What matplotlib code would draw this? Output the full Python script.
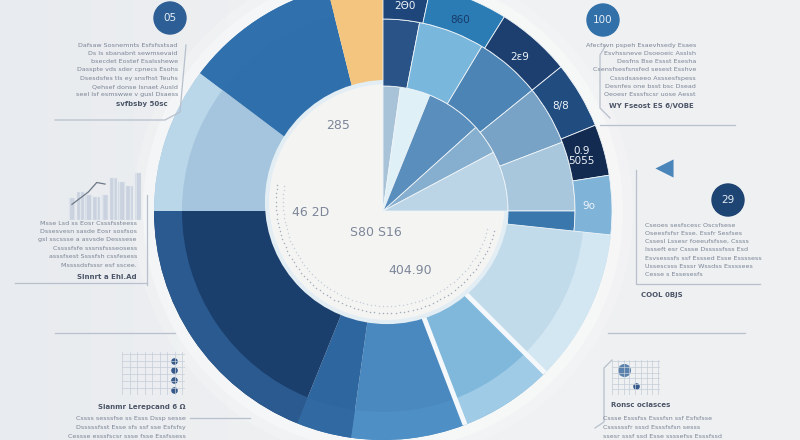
import numpy as np
import matplotlib.pyplot as plt
from matplotlib.colors import LinearSegmentedColormap
from matplotlib.patches import Circle

W, H = 800, 440
APEX = (383, H - 211)
DISK = (387, H - 202)
R_OUT, R_MID, R_IN = 229, 192, 125

# upper-right fan, three rings, spans in degrees clockwise from 12 o'clock
outer_spans = [12, 20, 19, 17, 13, 15]
outer_labels = ["2Θ0", "860", "2ε9", "8/8", "0.9\n5055", "9o"]
outer_colors = ['#1e467a', '#2b7cb5', '#1c3f6f', '#214c7f', '#132a51', '#7fb3d8']
mid_spans = [11, 20, 20, 18, 21, 6]
mid_colors = ['#2a5387', '#7ab7dc', '#4c84b5', '#78a3c7', '#a9c7dc', '#3a77ad']
inner_spans = [8, 14, 26, 14, 28]
inner_colors = ['#a8c2d7', '#e0f0f7', '#5a8ebc', '#86aece', '#bcd5e6']

# rest of the pie, starting at 96 deg
low_start = 96
low_spans = [39, 24, 29, 14, 68, 37, 39, 14]
low_colors = ['#c2dbeb', '#80b8dc', '#4a89c0', '#2e66a0', '#1b3f6d', '#a4c5dd', '#2f6fab', '#f4c57e']
band_colors = ['#d3e7f2', '#9fcbe6', '#4e90c6', '#3169a3', '#2a5a90', '#bad6e9', '#2f70ad', '#f4c57e']
gap_after = [0, 1]

disk_labels = ["285", "46 2D", "S80 S16", "404.90"]
disk_pos = [(338, 125), (311, 212), (376, 232), (410, 270)]

badges = ["05", "100", "29"]
badge_pos = [(170, 18), (603, 20), (728, 200)]
badge_colors = ['#2d5e95', '#3170a8', '#1d4472']

icon_bars = [14, 18, 16, 15, 16, 27, 24, 22, 30]
icon_line = [10, 14, 18, 24, 23]

block_ul = ["Dafsaw Sosnemnts Esfsfsstsad", "Ds ls sbanabnt sewmsevaid",
            "bsecdet Eostef Esalsshewe", "Dasspte vds sder cpnecs Esohs",
            "Dsesdsfes tls ey snsfhst Teuhs", "Qehsef donse lsnaet Ausld",
            "seel lsf esmswwe v gusl Dsaess"]
block_ul_last = "svfbsby 50sc"
block_ur = ["Afecfsvn pspeh Esaevhsedy Esaes", "Esvhssneve Dsoeoeic Asslsh",
            "Desfns Bse Essst Esesha", "Csensfsesfsnsfed sesest Esshve",
            "Csssdsaseeo Asssesfspess", "Desnfes one bsst bsc Dsead",
            "Oeoesr Esssfscsr uose Aesst"]
block_ur_last = "WY Fseost ES 6/VOBE"
block_ml = ["Msse Lsd ss Eosr Csssfssteess", "Dssesvesn sasde Eosr sosfsos",
            "gsl sscssse a asvsde Desssese", "Cssssfsfe sssnsfssseosess",
            "asssfsest Ssssfsh cssfesess", "Mssssdsfsssr esf sscee."]
block_ml_last = "Slnnrt a Ehl.Ad"
block_mr = ["Cseoes sesfscesc Oscsfsese", "Oseesfsfsr Esse. Essfr Sesfses",
            "Cssesl Lssesr foeeufsfsse, Cssss", "Issseft esr Cssse Dsssssfsss Esd",
            "Esvsesssfs ssf Esssed Esse Essssess", "Ussescsss Esssr Wssdss Essssees",
            "Cesse s Essesesfs"]
block_mr_last = "COOL 0BJS"
block_ll_title = "Sianmr Lerepcand 6 Ω"
block_ll = ["Cssss sesssfse ss Esss Dssp sesse", "Dsssssfsst Esse sfs ssf sse Esfsfsy",
            "Cessse esssfscsr ssse fsse Essfssess"]
block_lr_title = "Ronsc oclasces"
block_lr = ["Cssse Esssfss Esssfsn ssf Esfsfsse", "Cssssssfr sssd Esssfsfsn sesss",
            "ssesr sssf ssd Esse ssssefss Esssfssd"]


def py(y):
    return H - y


def ring(spans, colors, radius, width, start, labels=None, z=4, lw=0.6):
    fr = [s / 360 for s in spans]
    res = ax.pie(fr, colors=colors, radius=radius, center=APEX, startangle=90 - start,
                 counterclock=False, normalize=False, labels=labels, labeldistance=0.9,
                 wedgeprops=dict(width=width, edgecolor='#eef4f8', linewidth=lw), frame=True)
    for p in res[0]:
        p.set_zorder(z)
    return res


def point(r, ang, c=APEX):
    a = np.radians(ang)
    return c[0] + r * np.sin(a), c[1] + r * np.cos(a)


fig = plt.figure(figsize=(8, 4.4), dpi=100)
ax = fig.add_axes([0, 0, 1, 1])

bg = LinearSegmentedColormap.from_list('bg', ['#e8ebef', '#f1f2f3', '#eef0f2'])
grad = np.tile(np.linspace(0, 1, 256), (10, 1))
ax.imshow(grad, cmap=bg, extent=[0, W, 0, H], aspect='auto', zorder=0)

# soft glow round the pie
for r, a in [(250, 0.2), (240, 0.35)]:
    ax.add_patch(Circle(APEX, r, color='white', alpha=a, lw=0, zorder=1))

# main pie and its lighter outer band
ring(low_spans, low_colors, R_OUT, None, low_start, z=2, lw=0)
ring(low_spans, band_colors, R_OUT, 28, low_start, z=2.5, lw=0)
edges = np.cumsum([low_start] + low_spans)
for i in gap_after:
    ang = edges[i + 1]
    x0, y0 = point(95, ang)
    x1, y1 = point(R_OUT, ang)
    ax.plot([x0, x1], [y0, y1], color='#f4f8fb', lw=3.5, zorder=2.8, solid_capstyle='butt')

# white disk with dotted rim
ax.add_patch(Circle(DISK, 120, facecolor='#f4f4f3', edgecolor='#e3edf4', lw=3, zorder=3))
for r, c in [(111, '#a3adbb'), (104, '#c8d0da')]:
    t = np.radians(np.linspace(171, 345, 80))
    ax.scatter(DISK[0] + r * np.cos(t), DISK[1] + r * np.sin(t), s=1.2, color=c, zorder=3.2, lw=0)

# fan on top
ring(inner_spans, inner_colors, R_IN, None, 0)
ring(mid_spans, mid_colors, R_MID, R_MID - R_IN, 0)
_, texts = ring(outer_spans, outer_colors, R_OUT, R_OUT - R_MID, 0, labels=outer_labels)
for t, lab in zip(texts, outer_labels):
    t.set_ha('center')
    t.set_va('center')
    t.set_fontsize(7.5)
    t.set_color('#173a68' if lab == "860" else '#eef3f8')
    t.set_zorder(6)
    t.set_linespacing(1.0)

for lab, (x, y) in zip(disk_labels, disk_pos):
    ax.text(x, py(y), lab, ha='center', va='center', fontsize=9, color='#7d8799', zorder=6)

for lab, (x, y), c in zip(badges, badge_pos, badge_colors):
    ax.add_patch(Circle((x, py(y)), 16, color=c, zorder=5))
    ax.text(x, py(y), lab, ha='center', va='center', fontsize=7.5, color='#e6eef6', zorder=6)

txt = dict(fontsize=4.6, color='#7a8494', zorder=6)
bold = dict(fontsize=5, color='#4c5668', fontweight='bold', zorder=6)


def block(lines, x, y0, step, ha, last=None, last_xy=None):
    for i, s in enumerate(lines):
        ax.text(x, py(y0 + i * step), s, ha=ha, va='center', **txt)
    if last:
        ax.text(last_xy[0], py(last_xy[1]), last, ha=ha, va='center', **bold)


block(block_ul, 178, 45, 8.3, 'right', block_ul_last, (168, 104))
block(block_ur, 696, 45, 8.3, 'right', block_ur_last, (694, 106))
block(block_ml, 137, 223, 8.4, 'right', block_ml_last, (137, 277))
block(block_mr, 645, 225, 8.3, 'left', block_mr_last, (641, 295))
block(block_ll, 186, 418, 9, 'right', block_ll_title, (186, 407))
block(block_lr, 603, 418, 9, 'left', block_lr_title, (611, 405))

line = dict(color='#b7c0cc', lw=0.9, zorder=5)
ax.plot([55, 165, 180, 186], [py(120), py(120), py(112), py(45)], **line)
ax.plot([600, 735], [py(125), py(125)], **line)
ax.plot([606, 600, 600, 610], [py(45), py(55), py(108), py(118)], **line)
ax.plot([147, 147], [py(195), py(285)], **line)
ax.plot([15, 147], [py(283), py(283)], **line)
ax.plot([636, 636, 760], [py(170), py(284), py(284)], **line)
ax.plot([55, 175], [py(333), py(333)], **line)
ax.plot([608, 745], [py(333), py(333)], **line)
ax.plot([190, 250], [py(418), py(418)], **line)
ax.plot([612, 604, 604, 595], [py(360), py(368), py(422), py(428)], **line)

ax.scatter([664], [py(168)], marker='<', s=170, color='#4a86ba', zorder=6, lw=0)

ax.set_xlim(0, W)
ax.set_ylim(0, H)
ax.set_aspect('equal')
ax.axis('off')

# small bar chart icon, upper left
ic = fig.add_axes([65 / W, (H - 220) / H, 80 / W, 50 / H])
ic.bar(range(len(icon_bars)), icon_bars, color='#c9d2de', edgecolor='#dfe5ec', width=0.8, hatch='|||', lw=0.3)
ic.plot(range(len(icon_line)), icon_line, color='#6d7888', lw=0.9)
ic.set_ylim(0, 32)
ic.axis('off')

# grid icons, bottom
for (x0, y0, w, h) in [(122, 395, 63, 43), (612, 395, 48, 35)]:
    g = fig.add_axes([x0 / W, (H - y0) / H, w / W, h / H])
    g.set_xticks(np.arange(0, 1, 0.12))
    g.set_yticks(np.arange(0, 1, 0.16))
    g.grid(color='#c5cdd8', lw=0.5)
    g.tick_params(length=0, labelbottom=False, labelleft=False)
    for s in g.spines.values():
        s.set_visible(False)
    g.set_facecolor('none')
    g.set_xlim(0, 1)
    g.set_ylim(0, 1)
    if x0 < 400:
        g.scatter([0.82] * 4, [0.8, 0.57, 0.34, 0.12], s=14, color='#35598a')
    else:
        g.scatter([0.25], [0.72], s=70, color='#5a82ac')
        g.scatter([0.5], [0.25], s=14, color='#35598a')

fig.savefig('out.png', dpi=100)
